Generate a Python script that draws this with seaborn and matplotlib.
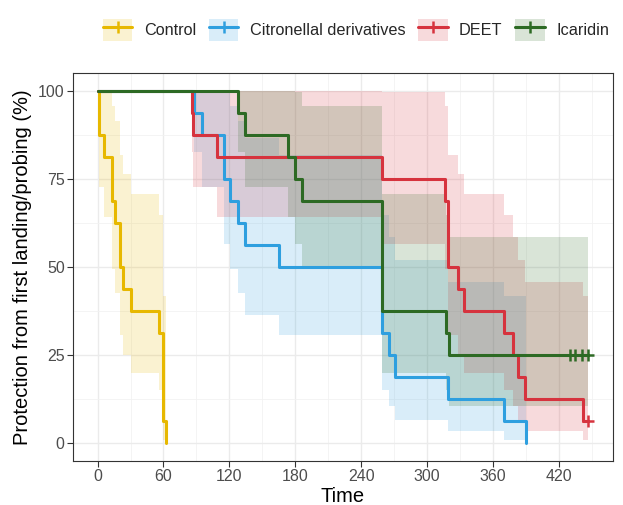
import numpy as np
import pandas as pd
import seaborn as sns
import matplotlib.pyplot as plt
from matplotlib.patches import Patch
from matplotlib.lines import Line2D
from matplotlib.ticker import MultipleLocator

# Groups and colours
groups = ["Control", "Citronellal derivatives", "DEET", "Icaridin"]
colors = ["#E7B800", "#2E9FDF", "#D6333E", "#2D6A24"]

# Time to first landing/probing per subject (event 1 = landing, 0 = censored)
control_time = [1, 1, 6, 13, 13, 16, 20, 20, 23, 30, 56, 60, 60, 60, 60, 62]
control_event = [1, 1, 1, 1, 1, 1, 1, 1, 1, 1, 1, 1, 1, 1, 1, 1]
citro_time = [88, 95, 115, 115, 121, 128, 134, 165, 259, 259, 259, 265, 271, 319, 370, 390]
citro_event = [1, 1, 1, 1, 1, 1, 1, 1, 1, 1, 1, 1, 1, 1, 1, 1]
deet_time = [86, 87, 109, 259, 316, 319, 319, 319, 328, 334, 370, 378, 383, 389, 442, 447]
deet_event = [1, 1, 1, 1, 1, 1, 1, 1, 1, 1, 1, 1, 1, 1, 1, 0]
icar_time = [128, 134, 173, 180, 186, 259, 259, 259, 259, 259, 317, 320, 430, 435, 441, 447]
icar_event = [1, 1, 1, 1, 1, 1, 1, 1, 1, 1, 1, 1, 0, 0, 0, 0]

data = {
    "Control": (control_time, control_event),
    "Citronellal derivatives": (citro_time, citro_event),
    "DEET": (deet_time, deet_event),
    "Icaridin": (icar_time, icar_event),
}


def kaplan_meier(times, events):
    t = np.array(times, float)
    e = np.array(events)
    s, g = 1.0, 0.0
    rows = [(0.0, 1.0, 1.0, 1.0, 0)]
    for u in np.unique(t):
        n = (t >= u).sum()
        d = e[t == u].sum()
        c = ((t == u) & (e == 0)).sum()
        if d > 0:
            s *= 1 - d / n
            if n > d:
                g += d / (n * (n - d))
        if s > 0:
            lo = s * np.exp(-1.96 * np.sqrt(g))
            hi = min(1.0, s * np.exp(1.96 * np.sqrt(g)))
        else:
            lo = hi = np.nan
        rows.append((u, s, lo, hi, c))
    return pd.DataFrame(rows, columns=["time", "surv", "lower", "upper", "censor"])


sns.set_theme(style="whitegrid")
plt.rcParams["font.family"] = ["Liberation Sans", "DejaVu Sans"]

fig = plt.figure(figsize=(6.23, 5.05), dpi=100)
ax = fig.add_axes([73 / 623, 1 - 461 / 505, 540 / 623, 388 / 505])

curves = []
for grp, col in zip(groups, colors):
    km = kaplan_meier(*data[grp])
    km["group"] = grp
    curves.append(km)
    # step ribbon for confidence band
    xx = np.repeat(km["time"].values, 2)[1:]
    lo = np.repeat(km["lower"].values * 100, 2)[:-1]
    hi = np.repeat(km["upper"].values * 100, 2)[:-1]
    ax.fill_between(xx, lo, hi, color=col, alpha=0.18, linewidth=0)

df = pd.concat(curves, ignore_index=True)
df["pct"] = df["surv"] * 100

sns.lineplot(data=df, x="time", y="pct", hue="group", palette=colors,
             hue_order=groups, estimator=None, sort=False,
             drawstyle="steps-post", linewidth=2.2, legend=False, ax=ax)

cens = df[df["censor"] > 0]
for grp, col in zip(groups, colors):
    sub = cens[cens["group"] == grp]
    if len(sub):
        ax.plot(sub["time"], sub["pct"], linestyle="none", marker="+",
                markersize=9, markeredgewidth=1.8, color=col)

ax.set_xlim(-22.4, 469.4)
ax.set_ylim(-5, 105)
ax.xaxis.set_major_locator(MultipleLocator(60))
ax.xaxis.set_minor_locator(MultipleLocator(30))
ax.yaxis.set_major_locator(MultipleLocator(25))
ax.yaxis.set_minor_locator(MultipleLocator(12.5))
ax.grid(which="major", color="#EBEBEB", linewidth=1.0)
ax.grid(which="minor", color="#F2F2F2", linewidth=0.6)
ax.set_axisbelow(True)
for sp in ax.spines.values():
    sp.set_color("#333333")
    sp.set_linewidth(0.8)
ax.tick_params(axis="both", which="major", length=4, width=0.8, color="#333333",
               labelsize=11.5, labelcolor="#4D4D4D", pad=2, bottom=True, left=True)
ax.tick_params(which="minor", length=0)

ax.set_xlabel("Time", fontsize=14.5, color="black", labelpad=2)
ax.set_ylabel("Protection from first landing/probing (%)", fontsize=14.5,
              color="black", labelpad=4)

# Legend with band box, line and censor mark
handles = []
for col in colors:
    box = Patch(facecolor=col, alpha=0.18, linewidth=0)
    ln = Line2D([], [], color=col, linewidth=2.2, marker="+", markersize=9,
                markeredgewidth=1.8)
    handles.append((box, ln))
fig.legend(handles, groups, loc="center", bbox_to_anchor=(356 / 623, 1 - 30 / 505),
           ncol=4, frameon=False, fontsize=11.7, handlelength=1.8, handleheight=1.8,
           handletextpad=0.7, columnspacing=0.8, borderpad=0)

fig.savefig("out.png", dpi=100)
